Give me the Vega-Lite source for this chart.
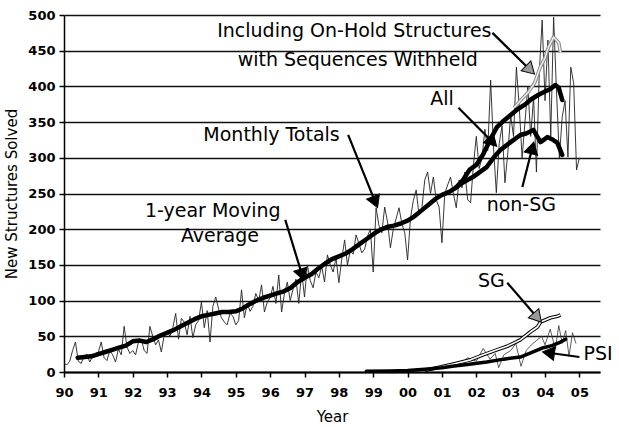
{
  "$schema": "https://vega.github.io/schema/vega-lite/v6.json",
  "width": 536,
  "height": 357,
  "autosize": {"type": "none"},
  "padding": {"left": 64, "top": 15, "right": 19, "bottom": 55},
  "config": {"view": {"stroke": null}, "font": "DejaVu Sans",
    "axisX": {"grid": false, "domainColor": "#000", "domainWidth": 2, "tickColor": "#000", "tickSize": 5, "tickWidth": 1.5,
      "labelFont": "DejaVu Sans", "labelFontSize": 13, "labelFontWeight": "bold", "labelColor": "#000", "labelPadding": 9,
      "labelFlush": false, "labelOverlap": false,
      "titleFont": "DejaVu Sans", "titleFontSize": 15, "titleFontWeight": "normal", "titleColor": "#000", "titlePadding": 10},
    "axisY": {"grid": true, "gridColor": "#111", "gridWidth": 1.6, "domainColor": "#000", "domainWidth": 1.5,
      "tickColor": "#000", "tickSize": 5, "tickWidth": 1.5, "labelOverlap": false,
      "labelFont": "DejaVu Sans", "labelFontSize": 13, "labelFontWeight": "bold", "labelColor": "#000", "labelPadding": 4,
      "titleFont": "DejaVu Sans", "titleFontSize": 15, "titleFontWeight": "normal", "titleColor": "#000", "titlePadding": 8}
  },
  "datasets": {
    "monthly": [
      {"t":1990.0,"v":12},{"t":1990.083,"v":10},{"t":1990.167,"v":15},{"t":1990.25,"v":30},{"t":1990.333,"v":42},{"t":1990.417,"v":15},{"t":1990.5,"v":12},{"t":1990.583,"v":22},{"t":1990.667,"v":25},{"t":1990.75,"v":14},{"t":1990.833,"v":22},{"t":1990.917,"v":26},
      {"t":1991.0,"v":28},{"t":1991.083,"v":42},{"t":1991.167,"v":20},{"t":1991.25,"v":16},{"t":1991.333,"v":30},{"t":1991.417,"v":24},{"t":1991.5,"v":14},{"t":1991.583,"v":32},{"t":1991.667,"v":24},{"t":1991.75,"v":64},{"t":1991.833,"v":35},{"t":1991.917,"v":26},
      {"t":1992.0,"v":30},{"t":1992.083,"v":24},{"t":1992.167,"v":42},{"t":1992.25,"v":46},{"t":1992.333,"v":30},{"t":1992.417,"v":26},{"t":1992.5,"v":64},{"t":1992.583,"v":50},{"t":1992.667,"v":38},{"t":1992.75,"v":45},{"t":1992.833,"v":28},{"t":1992.917,"v":52},
      {"t":1993.0,"v":58},{"t":1993.083,"v":50},{"t":1993.167,"v":62},{"t":1993.25,"v":82},{"t":1993.333,"v":46},{"t":1993.417,"v":75},{"t":1993.5,"v":70},{"t":1993.583,"v":52},{"t":1993.667,"v":78},{"t":1993.75,"v":48},{"t":1993.833,"v":66},{"t":1993.917,"v":72},
      {"t":1994.0,"v":98},{"t":1994.083,"v":62},{"t":1994.167,"v":86},{"t":1994.25,"v":42},{"t":1994.333,"v":92},{"t":1994.417,"v":105},{"t":1994.5,"v":88},{"t":1994.583,"v":76},{"t":1994.667,"v":70},{"t":1994.75,"v":66},{"t":1994.833,"v":82},{"t":1994.917,"v":78},
      {"t":1995.0,"v":66},{"t":1995.083,"v":72},{"t":1995.167,"v":115},{"t":1995.25,"v":76},{"t":1995.333,"v":96},{"t":1995.417,"v":85},{"t":1995.5,"v":92},{"t":1995.583,"v":110},{"t":1995.667,"v":100},{"t":1995.75,"v":122},{"t":1995.833,"v":84},{"t":1995.917,"v":98},
      {"t":1996.0,"v":104},{"t":1996.083,"v":120},{"t":1996.167,"v":96},{"t":1996.25,"v":136},{"t":1996.333,"v":84},{"t":1996.417,"v":110},{"t":1996.5,"v":126},{"t":1996.583,"v":100},{"t":1996.667,"v":116},{"t":1996.75,"v":130},{"t":1996.833,"v":96},{"t":1996.917,"v":140},
      {"t":1997.0,"v":105},{"t":1997.083,"v":150},{"t":1997.167,"v":128},{"t":1997.25,"v":118},{"t":1997.333,"v":140},{"t":1997.417,"v":132},{"t":1997.5,"v":148},{"t":1997.583,"v":126},{"t":1997.667,"v":164},{"t":1997.75,"v":150},{"t":1997.833,"v":140},{"t":1997.917,"v":160},
      {"t":1998.0,"v":125},{"t":1998.083,"v":158},{"t":1998.167,"v":185},{"t":1998.25,"v":150},{"t":1998.333,"v":170},{"t":1998.417,"v":165},{"t":1998.5,"v":192},{"t":1998.583,"v":180},{"t":1998.667,"v":167},{"t":1998.75,"v":172},{"t":1998.833,"v":190},{"t":1998.917,"v":200},
      {"t":1999.0,"v":140},{"t":1999.083,"v":230},{"t":1999.167,"v":205},{"t":1999.25,"v":195},{"t":1999.333,"v":231},{"t":1999.417,"v":210},{"t":1999.5,"v":174},{"t":1999.583,"v":200},{"t":1999.667,"v":215},{"t":1999.75,"v":230},{"t":1999.833,"v":208},{"t":1999.917,"v":195},
      {"t":2000.0,"v":157},{"t":2000.083,"v":215},{"t":2000.167,"v":240},{"t":2000.25,"v":255},{"t":2000.333,"v":220},{"t":2000.417,"v":230},{"t":2000.5,"v":269},{"t":2000.583,"v":280},{"t":2000.667,"v":250},{"t":2000.75,"v":273},{"t":2000.833,"v":241},{"t":2000.917,"v":231},
      {"t":2001.0,"v":181},{"t":2001.083,"v":250},{"t":2001.167,"v":262},{"t":2001.25,"v":273},{"t":2001.333,"v":250},{"t":2001.417,"v":230},{"t":2001.5,"v":269},{"t":2001.583,"v":258},{"t":2001.667,"v":280},{"t":2001.75,"v":241},{"t":2001.833,"v":237},{"t":2001.917,"v":290},
      {"t":2002.0,"v":330},{"t":2002.083,"v":285},{"t":2002.167,"v":300},{"t":2002.25,"v":340},{"t":2002.333,"v":310},{"t":2002.417,"v":409},{"t":2002.5,"v":315},{"t":2002.583,"v":251},{"t":2002.667,"v":320},{"t":2002.75,"v":345},{"t":2002.833,"v":265},{"t":2002.917,"v":307},
      {"t":2003.0,"v":360},{"t":2003.083,"v":330},{"t":2003.167,"v":427},{"t":2003.25,"v":371},{"t":2003.333,"v":300},{"t":2003.417,"v":350},{"t":2003.5,"v":400},{"t":2003.583,"v":330},{"t":2003.667,"v":385},{"t":2003.75,"v":280},{"t":2003.833,"v":420},{"t":2003.917,"v":493},
      {"t":2004.0,"v":380},{"t":2004.083,"v":465},{"t":2004.167,"v":330},{"t":2004.25,"v":497},{"t":2004.333,"v":395},{"t":2004.417,"v":300},{"t":2004.5,"v":357},{"t":2004.583,"v":380},{"t":2004.667,"v":301},{"t":2004.75,"v":427},{"t":2004.833,"v":405},{"t":2004.917,"v":283},
      {"t":2005.0,"v":300}
    ],
    "avg": [
      {"s":"All","t":1990.4,"v":20},{"s":"All","t":1990.6,"v":21},{"s":"All","t":1990.8,"v":22},{"s":"All","t":1991.0,"v":25},{"s":"All","t":1991.2,"v":28},{"s":"All","t":1991.4,"v":31},{"s":"All","t":1991.6,"v":34},{"s":"All","t":1991.8,"v":37},{"s":"All","t":1992.0,"v":43},{"s":"All","t":1992.2,"v":44},{"s":"All","t":1992.4,"v":42},{"s":"All","t":1992.6,"v":46},{"s":"All","t":1992.8,"v":51},{"s":"All","t":1993.0,"v":55},{"s":"All","t":1993.2,"v":59},{"s":"All","t":1993.4,"v":64},{"s":"All","t":1993.6,"v":69},{"s":"All","t":1993.8,"v":74},{"s":"All","t":1994.0,"v":78},{"s":"All","t":1994.2,"v":80},{"s":"All","t":1994.4,"v":82},{"s":"All","t":1994.6,"v":84},{"s":"All","t":1994.8,"v":84},{"s":"All","t":1995.0,"v":85},{"s":"All","t":1995.2,"v":89},{"s":"All","t":1995.4,"v":95},{"s":"All","t":1995.6,"v":100},{"s":"All","t":1995.8,"v":104},{"s":"All","t":1996.0,"v":107},{"s":"All","t":1996.2,"v":110},{"s":"All","t":1996.4,"v":113},{"s":"All","t":1996.6,"v":118},{"s":"All","t":1996.8,"v":126},{"s":"All","t":1997.0,"v":132},{"s":"All","t":1997.2,"v":137},{"s":"All","t":1997.4,"v":145},{"s":"All","t":1997.6,"v":152},{"s":"All","t":1997.8,"v":158},{"s":"All","t":1998.0,"v":162},{"s":"All","t":1998.2,"v":166},{"s":"All","t":1998.4,"v":172},{"s":"All","t":1998.6,"v":179},{"s":"All","t":1998.8,"v":186},{"s":"All","t":1999.0,"v":193},{"s":"All","t":1999.2,"v":199},{"s":"All","t":1999.4,"v":203},{"s":"All","t":1999.6,"v":205},{"s":"All","t":1999.8,"v":208},{"s":"All","t":2000.0,"v":212},{"s":"All","t":2000.2,"v":218},{"s":"All","t":2000.4,"v":226},{"s":"All","t":2000.6,"v":234},{"s":"All","t":2000.8,"v":242},{"s":"All","t":2001.0,"v":248},{"s":"All","t":2001.2,"v":252},{"s":"All","t":2001.4,"v":258},{"s":"All","t":2001.6,"v":268},{"s":"All","t":2001.8,"v":283},{"s":"All","t":2002.0,"v":290},{"s":"All","t":2002.2,"v":305},{"s":"All","t":2002.4,"v":325},{"s":"All","t":2002.6,"v":343},{"s":"All","t":2002.8,"v":352},{"s":"All","t":2003.0,"v":360},{"s":"All","t":2003.2,"v":368},{"s":"All","t":2003.4,"v":374},{"s":"All","t":2003.6,"v":382},{"s":"All","t":2003.8,"v":388},{"s":"All","t":2004.0,"v":393},{"s":"All","t":2004.15,"v":396},{"s":"All","t":2004.3,"v":402},{"s":"All","t":2004.4,"v":398},{"s":"All","t":2004.5,"v":381},
      {"s":"non-SG","t":2001.4,"v":258},{"s":"non-SG","t":2001.6,"v":265},{"s":"non-SG","t":2001.9,"v":273},{"s":"non-SG","t":2002.1,"v":280},{"s":"non-SG","t":2002.3,"v":287},{"s":"non-SG","t":2002.5,"v":300},{"s":"non-SG","t":2002.7,"v":311},{"s":"non-SG","t":2003.0,"v":322},{"s":"non-SG","t":2003.28,"v":332},{"s":"non-SG","t":2003.45,"v":334},{"s":"non-SG","t":2003.66,"v":339},{"s":"non-SG","t":2003.87,"v":322},{"s":"non-SG","t":2004.07,"v":329},{"s":"non-SG","t":2004.2,"v":326},{"s":"non-SG","t":2004.36,"v":321},{"s":"non-SG","t":2004.5,"v":304}
    ],
    "psi": [
      {"t":1998.8,"v":1},{"t":1999.5,"v":1.5},{"t":2000.0,"v":2},{"t":2000.5,"v":4},{"t":2001.0,"v":6},{"t":2001.3,"v":8},{"t":2001.8,"v":11},{"t":2002.3,"v":14},{"t":2002.8,"v":18},{"t":2003.28,"v":21},{"t":2003.6,"v":27},{"t":2003.95,"v":34},{"t":2004.2,"v":37},{"t":2004.45,"v":42},{"t":2004.6,"v":46}
    ],
    "onhold": [
      {"t":2003.1,"v":370},{"t":2003.3,"v":381},{"t":2003.5,"v":391},{"t":2003.7,"v":405},{"t":2003.86,"v":427},{"t":2004.0,"v":440},{"t":2004.1,"v":455},{"t":2004.25,"v":469},{"t":2004.4,"v":461},{"t":2004.45,"v":447}
    ],
    "sg": [
      {"t":2000.5,"v":2},{"t":2000.95,"v":7},{"t":2001.4,"v":12},{"t":2001.83,"v":17},{"t":2002.2,"v":24},{"t":2002.6,"v":31},{"t":2002.9,"v":36},{"t":2003.28,"v":45},{"t":2003.57,"v":56},{"t":2003.78,"v":63},{"t":2003.87,"v":70},{"t":2004.16,"v":76},{"t":2004.36,"v":78},{"t":2004.45,"v":80}
    ],
    "sgm": [
      {"t":2001.0,"v":5},{"t":2001.25,"v":8},{"t":2001.5,"v":10},{"t":2001.75,"v":20},{"t":2002.0,"v":15},{"t":2002.2,"v":33},{"t":2002.4,"v":18},{"t":2002.55,"v":26},{"t":2002.65,"v":6},{"t":2002.8,"v":24},{"t":2003.0,"v":30},{"t":2003.15,"v":40},{"t":2003.3,"v":8},{"t":2003.45,"v":30},{"t":2003.6,"v":38},{"t":2003.75,"v":44},{"t":2003.9,"v":50},{"t":2004.0,"v":38},{"t":2004.15,"v":60},{"t":2004.3,"v":32},{"t":2004.4,"v":65},{"t":2004.5,"v":40},{"t":2004.6,"v":58},{"t":2004.7,"v":22},{"t":2004.8,"v":55},{"t":2004.9,"v":40}
    ],
    "arrows": [
      {"t":1998.27,"v":332,"t2":1999.06,"v2":238,"kind":"black"},
      {"t":1996.44,"v":213,"t2":1996.93,"v2":136,"kind":"black"},
      {"t":2001.48,"v":370,"t2":2002.47,"v2":322,"kind":"black"},
      {"t":2003.34,"v":259,"t2":2003.63,"v2":314,"kind":"black"},
      {"t":2002.47,"v":475,"t2":2003.57,"v2":423,"kind":"gray"},
      {"t":2002.9,"v":125,"t2":2003.78,"v2":76,"kind":"gray"},
      {"t":2005.0,"v":21,"t2":2004.1,"v2":27,"kind":"black"}
    ],
    "labels": [
      {"t":1998.45,"v":478,"text":"Including On-Hold Structures","a":"center"},
      {"t":1998.55,"v":437,"text":"with Sequences Withheld","a":"center"},
      {"t":1996.04,"v":332,"text":"Monthly Totals","a":"center"},
      {"t":1994.33,"v":225,"text":"1-year Moving","a":"center"},
      {"t":1994.54,"v":190,"text":"Average","a":"center"},
      {"t":2001.0,"v":382,"text":"All","a":"center"},
      {"t":2003.31,"v":234,"text":"non-SG","a":"center"},
      {"t":2002.44,"v":127,"text":"SG","a":"center"},
      {"t":2005.12,"v":25,"text":"PSI","a":"left"}
    ]
  },
  "encoding": {
    "x": {"field": "t", "type": "quantitative",
      "scale": {"domain": [1990, 2005.6], "nice": false, "zero": false},
      "axis": {"title": "Year", "values": [1990,1991,1992,1993,1994,1995,1996,1997,1998,1999,2000,2001,2002,2003,2004,2005],
        "labelExpr": "substring(toString(datum.value), 2, 4)"}},
    "y": {"field": "v", "type": "quantitative",
      "scale": {"domain": [0, 500], "nice": false},
      "axis": {"title": "New Structures Solved", "values": [0,50,100,150,200,250,300,350,400,450,500]}}
  },
  "layer": [
    {
      "data": {"name": "monthly"},
      "mark": {"type": "line", "color": "#222", "strokeWidth": 0.9}
    },
    {
      "data": {"name": "sgm"},
      "mark": {"type": "line", "color": "#333", "strokeWidth": 0.8}
    },
    {
      "data": {"name": "onhold"},
      "mark": {"type": "line", "color": "#888", "strokeWidth": 3.5, "strokeJoin": "round"}
    },
    {
      "data": {"name": "onhold"},
      "mark": {"type": "line", "color": "#eee", "strokeWidth": 1.5, "strokeJoin": "round"}
    },
    {
      "data": {"name": "sg"},
      "mark": {"type": "line", "color": "#000", "strokeWidth": 3.6, "strokeJoin": "round"}
    },
    {
      "data": {"name": "sg"},
      "mark": {"type": "line", "color": "#fff", "strokeWidth": 1.6, "strokeJoin": "round"}
    },
    {
      "data": {"name": "psi"},
      "mark": {"type": "line", "color": "#000", "strokeWidth": 3.5, "strokeJoin": "round", "strokeCap": "round"}
    },
    {
      "data": {"name": "avg"},
      "mark": {"type": "line", "color": "#000", "strokeWidth": 4.5, "strokeJoin": "round", "strokeCap": "round"},
      "encoding": {"detail": {"field": "s"}}
    },
    {
      "data": {"name": "arrows"},
      "mark": {"type": "rule", "color": "#000", "strokeWidth": 2.2},
      "encoding": {"x2": {"field": "t2"}, "y2": {"field": "v2"}}
    },
    {
      "data": {"name": "arrows"},
      "transform": [{"calculate": "atan2((datum.t2 - datum.t) * 34.33, (datum.v2 - datum.v) * 0.714) * 180 / PI", "as": "ang"}],
      "mark": {"type": "point", "shape": "triangle-up", "filled": true, "size": 190, "stroke": "#000", "strokeWidth": 1, "opacity": 1},
      "encoding": {
        "x": {"field": "t2", "type": "quantitative",
          "axis": {"title": "Year", "values": [1990,1991,1992,1993,1994,1995,1996,1997,1998,1999,2000,2001,2002,2003,2004,2005],
            "labelExpr": "substring(toString(datum.value), 2, 4)"}},
        "y": {"field": "v2", "type": "quantitative",
          "axis": {"title": "New Structures Solved", "values": [0,50,100,150,200,250,300,350,400,450,500]}},
        "angle": {"field": "ang", "type": "quantitative", "scale": null},
        "fill": {"field": "kind", "type": "nominal", "scale": {"domain": ["black", "gray"], "range": ["#000", "#999"]}, "legend": null}}
    },
    {
      "data": {"name": "labels"},
      "transform": [{"filter": "datum.a == 'center'"}],
      "mark": {"type": "text", "font": "DejaVu Sans", "fontSize": 19, "color": "#000", "align": "center", "baseline": "middle"},
      "encoding": {"text": {"field": "text"}}
    },
    {
      "data": {"name": "labels"},
      "transform": [{"filter": "datum.a == 'left'"}],
      "mark": {"type": "text", "font": "DejaVu Sans", "fontSize": 19, "color": "#000", "align": "left", "baseline": "middle"},
      "encoding": {"text": {"field": "text"}}
    }
  ]
}
